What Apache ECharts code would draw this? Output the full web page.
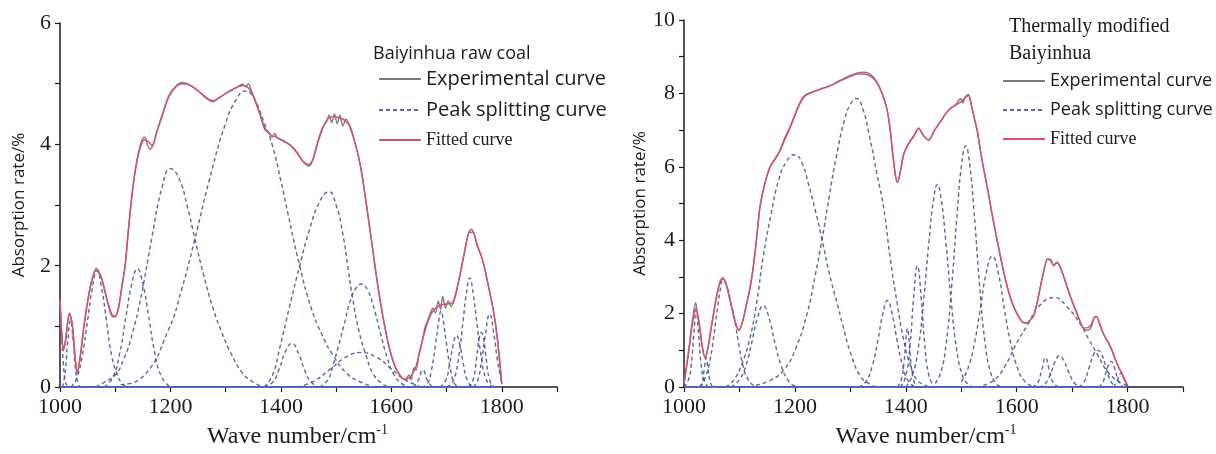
<!DOCTYPE html>
<html>
<head>
<meta charset="utf-8">
<title>Baiyinhua FTIR peak fitting</title>
<script src="https://cdn.jsdelivr.net/npm/echarts@6/dist/echarts.min.js"></script>
<style>
  html, body { margin: 0; padding: 0; background: #fff; }
  #chart { width: 1216px; height: 454px; }
</style>
</head>
<body>
<div id="chart"></div>
<script>
// ---- data: wave number (cm-1) / absorption rate (%) ----
const xTicks = [1000, 1200, 1400, 1600, 1800];
const baselineX = [1000, 1800];

// left panel: Baiyinhua raw coal
const leftExperimental = [[1000,1.45],[1003,0.92],[1006,0.62],[1010,0.78],[1017,1.22],[1022,1.05],[1027,0.52],[1031,0.22],[1036,0.47],[1045,1.12],[1055,1.66],[1066,1.96],[1075,1.8],[1085,1.44],[1095,1.16],[1100,1.16],[1106,1.32],[1112,1.66],[1118,2.02],[1124,2.6],[1130,3.15],[1137,3.62],[1145,3.98],[1150,4.1],[1154,4.12],[1158,4.0],[1163,3.92],[1168,3.98],[1175,4.2],[1185,4.48],[1197,4.8],[1210,4.96],[1221,5.02],[1233,4.99],[1245,4.92],[1258,4.82],[1268,4.74],[1276,4.7],[1290,4.78],[1305,4.86],[1320,4.94],[1330,4.99],[1336,4.95],[1341,5.0],[1346,4.9],[1352,4.76],[1362,4.5],[1371,4.24],[1378,4.2],[1384,4.12],[1389,4.18],[1394,4.1],[1405,4.06],[1418,3.98],[1430,3.86],[1440,3.72],[1450,3.64],[1456,3.7],[1466,4.02],[1475,4.27],[1483,4.38],[1487,4.48],[1492,4.36],[1497,4.5],[1502,4.34],[1507,4.48],[1512,4.3],[1518,4.42],[1525,4.28],[1535,4.0],[1545,3.6],[1555,3.0],[1565,2.35],[1575,1.7],[1585,1.15],[1595,0.7],[1605,0.38],[1615,0.2],[1625,0.12],[1632,0.2],[1636,0.12],[1641,0.32],[1645,0.28],[1650,0.55],[1655,0.72],[1661,0.98],[1665,1.08],[1670,1.2],[1675,1.3],[1680,1.22],[1685,1.42],[1689,1.28],[1693,1.5],[1698,1.3],[1703,1.42],[1708,1.33],[1713,1.42],[1722,1.75],[1732,2.2],[1740,2.55],[1745,2.6],[1750,2.52],[1755,2.35],[1765,2.1],[1775,1.7],[1785,1.25],[1792,0.8],[1800,0.05]];
const leftFitted = [[1000,1.42],[1003,0.9],[1006,0.6],[1010,0.75],[1017,1.2],[1022,1.05],[1027,0.55],[1031,0.25],[1036,0.45],[1045,1.1],[1055,1.65],[1066,1.93],[1075,1.8],[1085,1.45],[1095,1.18],[1100,1.17],[1106,1.3],[1112,1.65],[1118,2.0],[1124,2.6],[1130,3.13],[1137,3.6],[1145,3.94],[1154,4.08],[1160,4.04],[1167,3.98],[1175,4.2],[1185,4.47],[1197,4.78],[1210,4.95],[1221,5.0],[1233,4.98],[1245,4.92],[1258,4.82],[1268,4.75],[1278,4.72],[1290,4.78],[1305,4.87],[1320,4.94],[1332,4.97],[1342,4.92],[1352,4.75],[1362,4.5],[1372,4.25],[1382,4.15],[1392,4.12],[1405,4.05],[1418,3.98],[1430,3.85],[1440,3.72],[1450,3.67],[1458,3.75],[1466,4.0],[1475,4.25],[1485,4.42],[1495,4.46],[1505,4.44],[1515,4.4],[1525,4.3],[1535,4.0],[1545,3.6],[1555,3.0],[1565,2.35],[1575,1.7],[1585,1.15],[1595,0.7],[1605,0.38],[1615,0.2],[1625,0.13],[1635,0.17],[1645,0.35],[1655,0.72],[1665,1.05],[1675,1.25],[1688,1.35],[1700,1.37],[1712,1.4],[1722,1.75],[1732,2.2],[1742,2.55],[1748,2.55],[1755,2.35],[1765,2.1],[1775,1.7],[1785,1.25],[1792,0.8],[1800,0.05]];
const leftPeaks = [
  [[1000,1.35],[1003,0.85],[1006,0.4],[1009,0.12],[1013,0.02],[1018,0]],
  [[1005,0],[1010,0.3],[1014,0.75],[1019,1.1],[1024,0.75],[1028,0.3],[1033,0.05],[1038,0]],
  [[1020,0],[1030,0.14],[1040,0.5],[1050,1.1],[1058,1.6],[1067,1.92],[1076,1.6],[1084,1.1],[1094,0.5],[1104,0.2],[1114,0.04],[1122,0]],
  [[1080,0],[1095,0.15],[1108,0.55],[1120,1.2],[1130,1.7],[1140,1.95],[1150,1.7],[1160,1.2],[1172,0.55],[1185,0.15],[1200,0]],
  [[1065,0],[1080,0.08],[1100,0.2],[1115,0.45],[1130,0.85],[1148,1.55],[1167,2.5],[1185,3.3],[1200,3.6],[1215,3.45],[1230,3.0],[1244,2.45],[1260,1.85],[1277,1.3],[1293,0.9],[1310,0.55],[1329,0.25],[1350,0.08],[1370,0]],
  [[1110,0.04],[1150,0.17],[1195,0.91],[1220,1.6],[1244,2.43],[1270,3.4],[1300,4.35],[1320,4.75],[1335,4.88],[1350,4.78],[1370,4.35],[1384,4.0],[1400,3.4],[1413,2.85],[1434,2.0],[1455,1.3],[1475,0.85],[1494,0.53],[1520,0.22],[1545,0.08],[1570,0]],
  [[1370,0],[1385,0.08],[1397,0.3],[1408,0.58],[1420,0.72],[1432,0.55],[1443,0.28],[1455,0.08],[1470,0]],
  [[1370,0],[1385,0.2],[1398,0.65],[1415,1.3],[1434,2.0],[1452,2.6],[1470,3.05],[1487,3.22],[1500,3.0],[1512,2.53],[1521,2.0],[1530,1.46],[1542,0.9],[1555,0.5],[1567,0.22],[1580,0.08],[1595,0]],
  [[1470,0],[1485,0.12],[1494,0.35],[1505,0.7],[1515,1.05],[1525,1.4],[1535,1.62],[1546,1.7],[1557,1.6],[1567,1.35],[1580,0.9],[1592,0.5],[1605,0.2],[1620,0.05],[1635,0]],
  [[1430,0],[1460,0.1],[1490,0.3],[1515,0.48],[1545,0.57],[1575,0.48],[1600,0.3],[1625,0.12],[1655,0]],
  [[1640,0],[1648,0.1],[1657,0.28],[1666,0.1],[1675,0]],
  [[1655,0],[1665,0.05],[1672,0.25],[1680,0.7],[1686,1.1],[1690,1.25],[1694,1.1],[1700,0.7],[1708,0.25],[1715,0.05],[1725,0]],
  [[1688,0],[1698,0.1],[1706,0.4],[1712,0.7],[1718,0.85],[1724,0.7],[1730,0.4],[1738,0.1],[1748,0]],
  [[1700,0],[1712,0.1],[1722,0.5],[1730,1.1],[1736,1.55],[1742,1.8],[1748,1.55],[1755,1.05],[1762,0.55],[1772,0.12],[1785,0]],
  [[1740,0],[1748,0.12],[1754,0.45],[1759,0.8],[1763,0.9],[1767,0.8],[1772,0.45],[1778,0.12],[1786,0]],
  [[1748,0],[1756,0.1],[1763,0.4],[1770,0.85],[1778,1.2],[1786,0.85],[1792,0.45],[1797,0.2],[1800,0.08]]
];

// right panel: thermally modified Baiyinhua
const rightExperimental = [[1000,0.1],[1008,0.95],[1015,1.8],[1021,2.3],[1024,2.0],[1027,1.75],[1033,1.1],[1038,0.8],[1043,1.05],[1050,1.7],[1058,2.42],[1065,2.88],[1070,2.98],[1076,2.8],[1084,2.3],[1092,1.8],[1099,1.55],[1105,1.75],[1112,2.2],[1119,2.7],[1126,3.4],[1132,4.2],[1137,4.9],[1145,5.5],[1155,6.0],[1164,6.22],[1173,6.45],[1182,6.8],[1191,7.08],[1200,7.42],[1210,7.78],[1219,7.96],[1235,8.06],[1250,8.14],[1265,8.22],[1282,8.36],[1298,8.48],[1313,8.56],[1325,8.58],[1336,8.52],[1345,8.38],[1354,8.12],[1362,7.8],[1367,7.5],[1372,7.0],[1376,6.43],[1381,5.8],[1385,5.58],[1390,5.85],[1396,6.33],[1402,6.55],[1408,6.7],[1415,6.85],[1423,7.05],[1432,6.85],[1441,6.73],[1452,7.0],[1463,7.24],[1472,7.45],[1481,7.6],[1490,7.7],[1495,7.8],[1499,7.86],[1503,7.74],[1507,7.9],[1513,7.97],[1518,7.7],[1524,7.3],[1529,6.97],[1538,6.15],[1548,5.36],[1557,4.6],[1566,3.91],[1575,3.25],[1584,2.68],[1593,2.25],[1602,1.96],[1610,1.78],[1616,1.74],[1623,1.8],[1631,1.96],[1639,2.45],[1647,3.03],[1656,3.49],[1662,3.46],[1667,3.3],[1672,3.4],[1676,3.35],[1684,3.05],[1692,2.68],[1701,2.3],[1710,1.96],[1716,1.72],[1721,1.58],[1728,1.55],[1734,1.62],[1740,1.9],[1744,1.92],[1749,1.75],[1755,1.5],[1762,1.3],[1770,1.07],[1777,0.8],[1784,0.54],[1792,0.3],[1800,0.03]];
const rightFitted = [[1000,0.08],[1008,0.9],[1015,1.7],[1021,2.15],[1027,1.8],[1033,1.1],[1038,0.8],[1043,1.05],[1050,1.7],[1058,2.4],[1065,2.85],[1070,2.95],[1076,2.8],[1084,2.3],[1092,1.8],[1099,1.55],[1105,1.75],[1112,2.2],[1119,2.68],[1126,3.4],[1132,4.2],[1137,4.9],[1145,5.5],[1155,5.98],[1164,6.2],[1173,6.43],[1182,6.75],[1191,7.05],[1200,7.4],[1210,7.75],[1219,7.94],[1235,8.05],[1250,8.13],[1265,8.22],[1282,8.34],[1298,8.45],[1313,8.53],[1325,8.53],[1336,8.47],[1345,8.35],[1354,8.12],[1362,7.8],[1367,7.5],[1372,7.0],[1376,6.43],[1381,5.8],[1385,5.58],[1390,5.85],[1396,6.33],[1402,6.55],[1408,6.7],[1415,6.85],[1423,7.05],[1432,6.85],[1441,6.73],[1452,7.0],[1463,7.24],[1472,7.45],[1481,7.59],[1490,7.68],[1499,7.77],[1507,7.88],[1513,7.94],[1518,7.7],[1524,7.3],[1529,6.97],[1538,6.15],[1548,5.36],[1557,4.6],[1566,3.91],[1575,3.25],[1584,2.68],[1593,2.25],[1602,1.96],[1610,1.78],[1616,1.74],[1623,1.8],[1631,1.96],[1639,2.45],[1647,3.03],[1656,3.49],[1662,3.42],[1667,3.32],[1672,3.38],[1676,3.35],[1684,3.05],[1692,2.68],[1701,2.3],[1710,1.96],[1716,1.72],[1721,1.61],[1728,1.62],[1734,1.69],[1740,1.9],[1744,1.92],[1749,1.75],[1755,1.5],[1762,1.3],[1770,1.07],[1777,0.8],[1784,0.54],[1792,0.3],[1800,0.03]];
const rightPeaks = [
  [[1000,0],[1008,0.2],[1013,0.6],[1018,1.5],[1022,2.1],[1026,1.5],[1031,0.6],[1036,0.2],[1044,0]],
  [[1028,0],[1033,0.15],[1037,0.55],[1040,0.8],[1043,0.55],[1047,0.15],[1052,0]],
  [[1030,0],[1038,0.25],[1045,0.6],[1052,1.2],[1060,2.1],[1066,2.7],[1070,2.9],[1076,2.8],[1084,2.35],[1092,1.77],[1100,1.05],[1107,0.55],[1114,0.25],[1125,0.05],[1135,0]],
  [[1085,0],[1100,0.2],[1112,0.6],[1122,1.2],[1132,1.85],[1143,2.22],[1154,1.85],[1164,1.2],[1175,0.6],[1187,0.2],[1200,0.03],[1210,0]],
  [[1075,0],[1090,0.2],[1105,0.65],[1119,1.34],[1131,2.3],[1143,3.57],[1157,4.7],[1170,5.6],[1185,6.15],[1200,6.33],[1213,6.1],[1225,5.5],[1237,4.8],[1249,4.02],[1262,3.1],[1275,2.35],[1287,1.65],[1300,0.95],[1318,0.3],[1335,0.08],[1350,0]],
  [[1130,0.05],[1155,0.18],[1179,0.45],[1200,1.0],[1222,2.0],[1236,3.0],[1249,4.02],[1262,5.2],[1275,6.3],[1290,7.3],[1300,7.7],[1311,7.86],[1322,7.6],[1335,6.8],[1348,5.8],[1360,4.9],[1372,3.5],[1385,2.23],[1396,1.3],[1408,0.6],[1420,0.2],[1435,0.05],[1445,0]],
  [[1315,0],[1328,0.15],[1340,0.6],[1350,1.3],[1358,1.95],[1367,2.36],[1376,1.95],[1384,1.3],[1394,0.6],[1405,0.15],[1418,0]],
  [[1385,0],[1392,0.2],[1397,0.7],[1400,1.25],[1403,1.6],[1406,1.25],[1409,0.7],[1414,0.2],[1420,0]],
  [[1390,0],[1400,0.3],[1408,1.2],[1414,2.4],[1421,3.3],[1428,2.4],[1434,1.2],[1442,0.3],[1452,0]],
  [[1400,0],[1412,0.33],[1422,1.0],[1432,2.33],[1442,4.0],[1450,5.1],[1457,5.52],[1464,5.1],[1472,4.0],[1482,2.33],[1492,1.0],[1502,0.33],[1512,0.08],[1522,0]],
  [[1453,0.1],[1463,0.4],[1473,1.2],[1483,2.8],[1493,4.8],[1501,6.1],[1508,6.57],[1515,6.1],[1523,4.8],[1533,2.8],[1543,1.2],[1553,0.4],[1563,0.1],[1573,0]],
  [[1500,0.14],[1512,0.5],[1524,1.2],[1534,2.1],[1545,3.1],[1556,3.57],[1567,3.1],[1578,2.1],[1590,1.15],[1602,0.5],[1614,0.17],[1628,0.03],[1640,0]],
  [[1540,0.05],[1560,0.2],[1580,0.6],[1600,1.2],[1620,1.7],[1640,2.2],[1668,2.44],[1690,2.2],[1716,1.69],[1730,1.3],[1746,0.88],[1760,0.5],[1775,0.25],[1790,0.1],[1800,0.05]],
  [[1628,0],[1638,0.12],[1645,0.45],[1652,0.8],[1659,0.45],[1666,0.12],[1676,0]],
  [[1640,0],[1652,0.1],[1662,0.4],[1670,0.72],[1677,0.86],[1685,0.72],[1694,0.4],[1705,0.1],[1716,0]],
  [[1712,0],[1722,0.15],[1731,0.55],[1739,0.9],[1746,1.0],[1753,0.9],[1761,0.55],[1770,0.15],[1780,0]],
  [[1748,0],[1756,0.15],[1763,0.5],[1770,0.7],[1777,0.5],[1784,0.15],[1792,0]],
  [[1775,0],[1782,0.2],[1788,0.38],[1794,0.2],[1800,0.05]]
];

// ---- styles ----
const SERIF = '"Liberation Serif", "DejaVu Serif", serif';
const SANS = '"Open Sans", "Noto Sans", sans-serif';
const INK = '#1c1c1c';
const EXP_NAME = 'Experimental curve';
const PEAK_NAME = 'Peak splitting curve';
const FIT_NAME = 'Fitted curve';

function makeXAxis(gridIndex, padRight) {
  return {
    type: 'value',
    gridIndex,
    min: 1000,
    max: 1900,
    interval: 100,
    name: '{n|Wave number/cm}{sup|-1}',
    nameLocation: 'middle',
    nameGap: 34,
    nameTextStyle: {
      padding: [0, padRight, 0, 0],
      rich: {
        n: { fontFamily: SERIF, fontSize: 24, color: INK, lineHeight: 28 },
        sup: { fontFamily: SERIF, fontSize: 14, color: INK, lineHeight: 14, verticalAlign: 'top' },
      },
    },
    axisLine: { lineStyle: { color: INK, width: 1.5 } },
    axisTick: { length: 5, lineStyle: { color: INK, width: 1.2 } },
    axisLabel: {
      margin: 9,
      fontFamily: SERIF,
      fontSize: 22,
      color: INK,
      formatter: (v) => (xTicks.includes(v) ? String(v) : ''),
    },
    splitLine: { show: false },
  };
}

function makeYAxis(gridIndex, max, gap) {
  return {
    type: 'value',
    gridIndex,
    min: 0,
    max,
    interval: 1,
    name: 'Absorption rate/%',
    nameLocation: 'middle',
    nameGap: gap,
    nameTextStyle: { fontFamily: SANS, fontSize: 17, color: INK },
    axisLine: { show: true, lineStyle: { color: INK, width: 1.5 } },
    axisTick: { show: true, length: 5, lineStyle: { color: INK, width: 1.2 } },
    axisLabel: {
      margin: 9,
      fontFamily: SERIF,
      fontSize: 22,
      color: INK,
      formatter: (v) => (v % 2 === 0 ? String(v) : ''),
    },
    splitLine: { show: false },
  };
}

function panelSeries(idx, experimental, fitted, peaks) {
  const list = peaks.map((pts) => ({
    name: PEAK_NAME,
    type: 'line',
    xAxisIndex: idx,
    yAxisIndex: idx,
    data: pts,
    smooth: 0.5,
    symbol: 'none',
    lineStyle: { color: 'rgba(62,78,145,0.85)', width: 1.4, type: [4, 3] },
    itemStyle: { color: 'rgba(62,78,145,0.85)' },
    z: 2,
  }));
  list.push({
    name: 'baseline',
    type: 'line',
    xAxisIndex: idx,
    yAxisIndex: idx,
    data: baselineX.map((x) => [x, 0]),
    symbol: 'none',
    lineStyle: { color: '#5466c4', width: 1.6 },
    z: 3,
  });
  list.push({
    name: EXP_NAME,
    type: 'line',
    xAxisIndex: idx,
    yAxisIndex: idx,
    data: experimental,
    smooth: 0.3,
    symbol: 'none',
    lineStyle: { color: '#7d7d7d', width: 1.4 },
    itemStyle: { color: '#7d7d7d' },
    z: 4,
  });
  list.push({
    name: FIT_NAME,
    type: 'line',
    xAxisIndex: idx,
    yAxisIndex: idx,
    data: fitted,
    smooth: 0.3,
    symbol: 'none',
    lineStyle: { color: '#d9506a', width: 1.5 },
    itemStyle: { color: '#d9506a' },
    z: 5,
  });
  return list;
}

function makeLegend(left, top, sansSize) {
  return {
    left,
    top,
    padding: 0,
    orient: 'vertical',
    itemWidth: 42,
    itemHeight: 14,
    itemGap: 11,
    selectedMode: false,
    itemStyle: { opacity: 0 },
    data: [EXP_NAME, PEAK_NAME, FIT_NAME],
    formatter: (name) => (name === FIT_NAME ? '{t|' + name + '}' : '{s|' + name + '}'),
    textStyle: {
      rich: {
        s: { fontFamily: SANS, fontSize: sansSize, color: INK, lineHeight: 22 },
        t: { fontFamily: SERIF, fontSize: 18, color: INK, lineHeight: 22 },
      },
    },
  };
}

const chart = echarts.init(document.getElementById('chart'), null, { renderer: 'canvas' });

chart.setOption({
  animation: false,
  backgroundColor: '#fff',
  title: [
    {
      text: 'Baiyinhua raw coal',
      left: 373,
      top: 43,
      padding: 0,
      textStyle: { fontFamily: SANS, fontSize: 18, fontWeight: 'normal', color: INK, lineHeight: 22 },
    },
    {
      text: 'Thermally modified\nBaiyinhua',
      left: 1009,
      top: 13,
      padding: 0,
      textStyle: { fontFamily: SERIF, fontSize: 20, fontWeight: 'normal', color: INK, lineHeight: 27 },
    },
  ],
  legend: [makeLegend(378, 69, 20), makeLegend(1002, 72, 18)],
  grid: [
    { left: 60, top: 23, width: 497, height: 370 },
    { left: 684, top: 20, width: 499, height: 373 },
  ],
  xAxis: [makeXAxis(0, 22), makeXAxis(1, 15)],
  yAxis: [makeYAxis(0, 6, 32), makeYAxis(1, 10, 35)],
  series: [
    ...panelSeries(0, leftExperimental, leftFitted, leftPeaks),
    ...panelSeries(1, rightExperimental, rightFitted, rightPeaks),
  ],
});
</script>
</body>
</html>
